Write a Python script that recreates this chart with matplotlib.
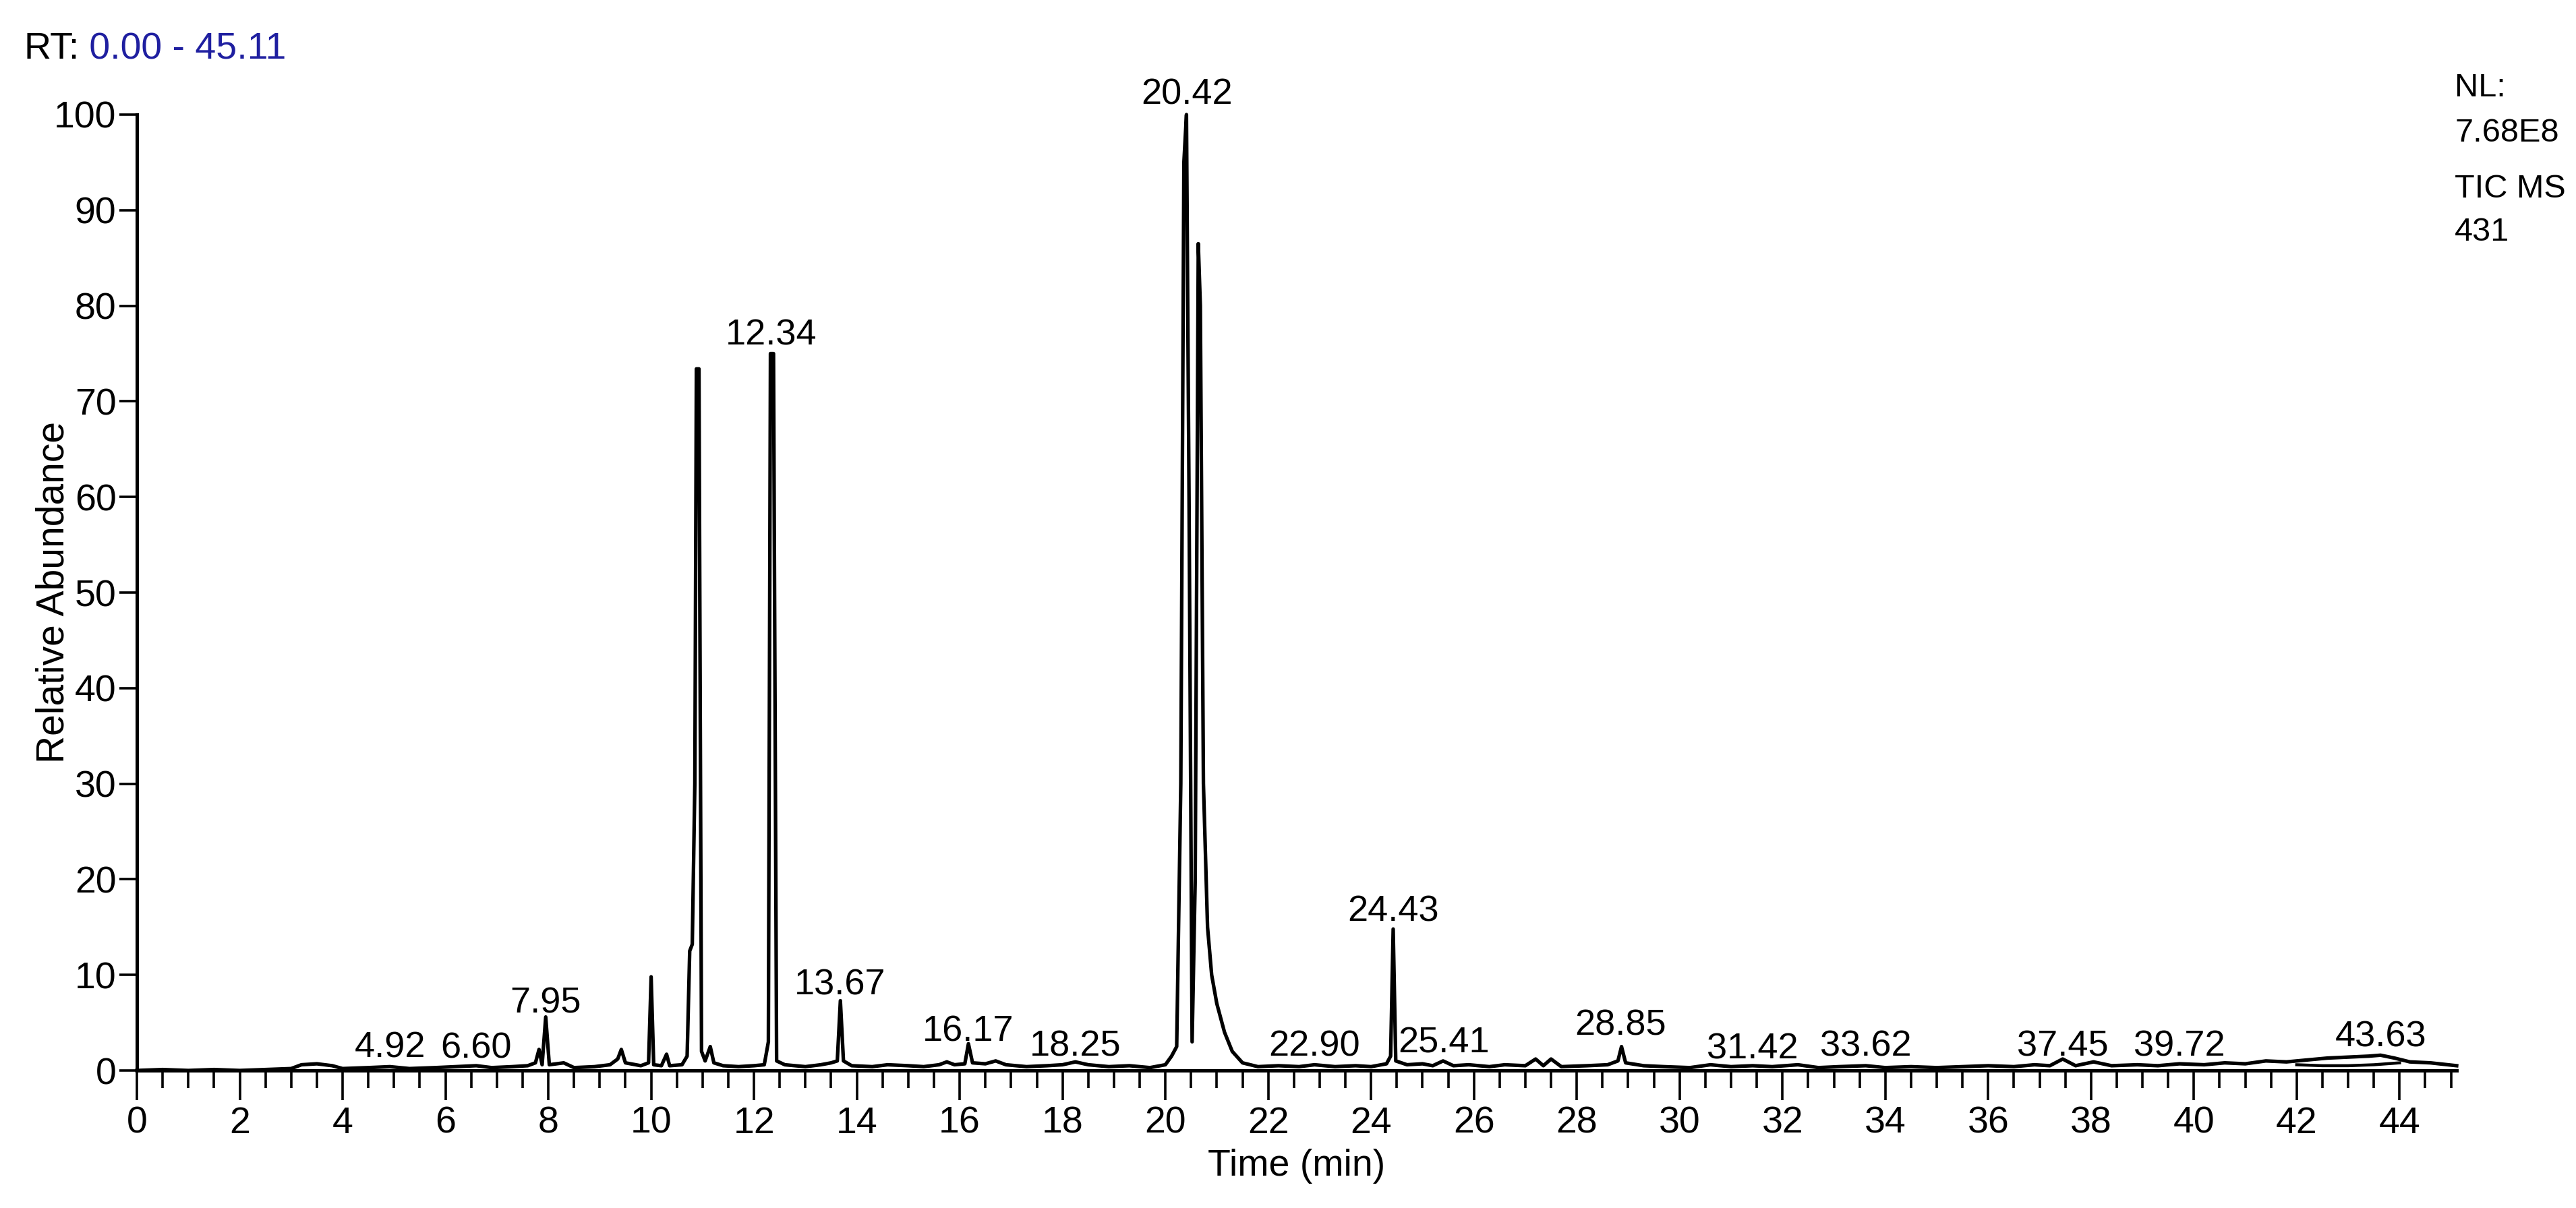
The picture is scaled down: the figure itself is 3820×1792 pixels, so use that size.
import matplotlib
matplotlib.use("Agg")
import matplotlib.pyplot as plt
from matplotlib import font_manager
from matplotlib.ticker import MultipleLocator

# chromatogram trace (time in min, relative abundance in %)
rt = [0.0, 0.5, 1.0, 1.5, 2.0, 2.5, 3.0, 3.2, 3.5, 3.8, 4.0, 4.5, 4.92, 5.3, 5.8, 6.2, 6.6, 6.9,
      7.3, 7.6, 7.75, 7.82, 7.88, 7.95, 8.02, 8.3, 8.5, 8.9, 9.2, 9.35, 9.42, 9.5, 9.8, 9.95,
      10.0, 10.05, 10.2, 10.3, 10.36, 10.6, 10.7, 10.75, 10.8, 10.85, 10.88, 10.93, 10.98, 11.05,
      11.15, 11.22, 11.4, 11.7, 12.0, 12.2, 12.28, 12.32, 12.38, 12.44, 12.6, 13.0, 13.3, 13.5,
      13.62, 13.68, 13.74, 13.9, 14.3, 14.6, 15.0, 15.3, 15.6, 15.75, 15.9, 16.1, 16.17, 16.25,
      16.5, 16.7, 16.9, 17.3, 17.7, 18.0, 18.25, 18.5, 18.9, 19.3, 19.7, 20.0, 20.12, 20.22,
      20.3, 20.36, 20.41, 20.46, 20.52, 20.58, 20.64, 20.68, 20.74, 20.82, 20.9, 21.0, 21.15,
      21.3, 21.5, 21.8, 22.2, 22.6, 22.9, 23.3, 23.7, 24.0, 24.3, 24.38, 24.43, 24.48, 24.7,
      25.0, 25.2, 25.4, 25.6, 25.9, 26.3, 26.6, 27.0, 27.2, 27.35, 27.5, 27.7, 28.2, 28.6, 28.8,
      28.87, 28.95, 29.3, 29.7, 30.2, 30.6, 31.0, 31.42, 31.8, 32.3, 32.7, 33.1, 33.62, 34.0,
      34.5, 35.0, 35.5, 36.0, 36.5, 36.9, 37.2, 37.45, 37.7, 38.05, 38.4, 38.9, 39.3, 39.72,
      40.2, 40.6, 41.0, 41.4, 41.8, 42.2, 42.6, 43.0, 43.4, 43.63, 43.9, 44.2, 44.6, 45.11]
abundance = [0.0, 0.1, 0.0, 0.1, 0.0, 0.1, 0.2, 0.6, 0.7, 0.5, 0.2, 0.3, 0.4, 0.2, 0.3, 0.4, 0.5, 0.3,
             0.4, 0.5, 0.8, 2.2, 0.6, 5.6, 0.6, 0.8, 0.3, 0.4, 0.6, 1.2, 2.2, 0.8, 0.5, 0.8,
             9.8, 0.6, 0.5, 1.7, 0.5, 0.6, 1.5, 12.5, 13.2, 30.0, 73.4, 73.4, 2.0, 1.0,
             2.5, 0.8, 0.5, 0.4, 0.5, 0.6, 3.0, 75.0, 75.0, 1.0, 0.6, 0.4, 0.6, 0.8,
             1.0, 7.3, 1.0, 0.5, 0.4, 0.6, 0.5, 0.4, 0.6, 0.9, 0.6, 0.7, 2.8, 0.8,
             0.7, 1.0, 0.6, 0.4, 0.5, 0.6, 0.9, 0.6, 0.4, 0.5, 0.3, 0.6, 1.5, 2.5,
             30.0, 95.0, 100.0, 60.0, 3.0, 20.0, 86.5, 80.0, 30.0, 15.0, 10.0, 7.0, 4.0,
             2.0, 0.8, 0.4, 0.5, 0.4, 0.6, 0.4, 0.5, 0.4, 0.7, 1.5, 14.8, 1.0, 0.6,
             0.7, 0.5, 1.0, 0.5, 0.6, 0.4, 0.6, 0.5, 1.2, 0.5, 1.2, 0.4, 0.5, 0.6, 1.0,
             2.5, 0.8, 0.5, 0.4, 0.3, 0.6, 0.4, 0.5, 0.4, 0.6, 0.3, 0.4, 0.5, 0.3,
             0.4, 0.3, 0.4, 0.5, 0.4, 0.6, 0.5, 1.2, 0.5, 0.9, 0.5, 0.6, 0.5, 0.7,
             0.6, 0.8, 0.7, 1.0, 0.9, 1.1, 1.3, 1.4, 1.5, 1.6, 1.3, 0.9, 0.8, 0.5]

# lower edge of the drifting band near the end of the run
band_rt = [42.0, 42.5, 43.0, 43.5, 44.0]
band_abundance = [0.6, 0.5, 0.5, 0.6, 0.8]

# labelled peaks: retention time and the height the label sits on
peak_labels = ["4.92", "6.60", "7.95", "12.34", "13.67", "16.17", "18.25", "20.42", "22.90",
               "24.43", "25.41", "28.85", "31.42", "33.62", "37.45", "39.72", "43.63"]
label_base = [1.4, 1.3, 6.0, 75.9, 7.9, 3.1, 1.5, 101.1, 1.5,
              15.6, 1.9, 3.7, 1.2, 1.5, 1.5, 1.5, 2.5]

names = {f.name for f in font_manager.fontManager.ttflist}
narrow = "Liberation Sans Narrow" if "Liberation Sans Narrow" in names else "Liberation Sans"
plt.rcParams["font.family"] = [narrow, "DejaVu Sans"]

W, H = 3820, 1792
fig = plt.figure(figsize=(W / 100, H / 100), dpi=100)
x0, x1, y0, y1 = 203, 3643, 170, 1588
ax = fig.add_axes([x0 / W, 1 - y1 / H, (x1 - x0) / W, (y1 - y0) / H])

ax.plot(rt, abundance, color="black", lw=3.8, solid_joinstyle="round", clip_on=False)
ax.plot(band_rt, band_abundance, color="black", lw=3.2, clip_on=False)

for lab, base in zip(peak_labels, label_base):
    ax.text(float(lab), base, lab, ha="center", va="baseline", fontsize=39, clip_on=False)

ax.set_xlim(0, 45.11)
ax.set_ylim(0, 100)
ax.xaxis.set_major_locator(MultipleLocator(2))
ax.xaxis.set_minor_locator(MultipleLocator(0.5))
ax.yaxis.set_major_locator(MultipleLocator(10))

for s in ["top", "right"]:
    ax.spines[s].set_visible(False)
for s in ["left", "bottom"]:
    ax.spines[s].set_linewidth(3.6)

ax.tick_params(axis="x", which="major", length=32, width=2.6, labelsize=40, pad=6)
ax.tick_params(axis="x", which="minor", length=19, width=2.6)
ax.tick_params(axis="y", which="major", length=19, width=2.6, labelsize=40, pad=3)

ax.set_xlabel("Time (min)", fontsize=40)
ax.xaxis.set_label_coords(0.5, -0.082)
ax.set_ylabel("Relative Abundance", fontsize=41, family=["Liberation Sans", "DejaVu Sans"])
ax.yaxis.set_label_coords(-0.028, 0.5)

rt_txt = fig.text(35 / W, 1 - 87 / H, "RT:", fontsize=40, va="baseline", color="black")
fig.canvas.draw()
ax.annotate(" 0.00 - 45.11", xy=(1, 0), xycoords=rt_txt, va="bottom", ha="left",
            fontsize=40, color="#1f1fa0", annotation_clip=False)

for txt, base in [("NL:", 143), ("7.68E8", 210), ("TIC MS", 293), ("431", 357)]:
    fig.text(3640 / W, 1 - base / H, txt, fontsize=35, va="baseline", ha="left", color="black")

fig.savefig("out.png", dpi=100, facecolor="white")
